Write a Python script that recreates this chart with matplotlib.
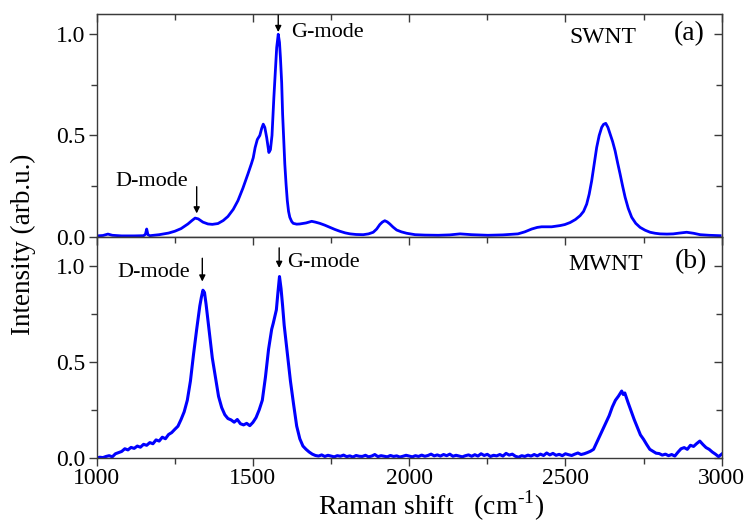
import matplotlib
matplotlib.use('Agg')
import matplotlib.pyplot as plt
from matplotlib.ticker import MultipleLocator

plt.rcParams['font.family'] = ['Liberation Serif', 'DejaVu Serif']
plt.rcParams['mathtext.fontset'] = 'custom'
plt.rcParams['mathtext.rm'] = 'Liberation Serif'

# SWNT spectrum (panel a)
swnt_x = [1000, 1020, 1036, 1050, 1080, 1120, 1150, 1156, 1160, 1164, 1170, 1200, 1230, 1250, 1270,
          1292, 1305, 1315, 1325, 1340, 1356, 1370, 1388, 1405, 1420, 1437, 1452, 1468, 1484, 1495,
          1501, 1507, 1514, 1522, 1528, 1533, 1538, 1544, 1551, 1556, 1561, 1567, 1572, 1576, 1581,
          1585, 1588, 1592, 1595, 1599, 1602, 1606, 1610, 1614, 1618, 1624, 1629, 1640, 1650, 1670,
          1688, 1700, 1714, 1730, 1747, 1762, 1778, 1795, 1811, 1830, 1853, 1870, 1885, 1896, 1906,
          1914, 1922, 1930, 1938, 1948, 1960, 1975, 1992, 2019, 2050, 2093, 2130, 2163, 2200, 2252,
          2300, 2348, 2370, 2392, 2410, 2424, 2440, 2456, 2470, 2483, 2498, 2515, 2532, 2547, 2558,
          2568, 2576, 2584, 2592, 2600, 2608, 2616, 2622, 2629, 2636, 2643, 2651, 2659, 2667, 2675,
          2683, 2691, 2701, 2712, 2725, 2739, 2755, 2771, 2787, 2803, 2825, 2845, 2865, 2888, 2910,
          2931, 2960, 2995]
swnt_y = [0.004, 0.006, 0.013, 0.007, 0.004, 0.004, 0.005, 0.012, 0.038, 0.010, 0.005, 0.010, 0.018, 0.027, 0.040,
          0.063, 0.080, 0.092, 0.088, 0.072, 0.063, 0.061, 0.065, 0.080, 0.100, 0.135, 0.178, 0.240, 0.310, 0.360,
          0.390, 0.440, 0.480, 0.500, 0.535, 0.556, 0.540, 0.490, 0.416, 0.430, 0.500, 0.688, 0.820, 0.934, 1.000,
          0.960, 0.885, 0.760, 0.605, 0.470, 0.359, 0.260, 0.178, 0.125, 0.096, 0.075, 0.066, 0.062, 0.063, 0.068,
          0.076, 0.072, 0.066, 0.057, 0.046, 0.036, 0.027, 0.019, 0.014, 0.011, 0.010, 0.014, 0.022, 0.038, 0.060,
          0.072, 0.079, 0.073, 0.063, 0.048, 0.033, 0.024, 0.017, 0.010, 0.008, 0.007, 0.009, 0.014, 0.010, 0.007,
          0.009, 0.014, 0.024, 0.038, 0.046, 0.049, 0.049, 0.049, 0.052, 0.055, 0.060, 0.070, 0.085, 0.104, 0.125,
          0.161, 0.210, 0.276, 0.360, 0.441, 0.500, 0.540, 0.555, 0.560, 0.540, 0.507, 0.470, 0.424, 0.365, 0.309,
          0.250, 0.195, 0.140, 0.096, 0.066, 0.046, 0.032, 0.022, 0.017, 0.014, 0.013, 0.014, 0.018, 0.022, 0.017,
          0.010, 0.007, 0.005]

# MWNT spectrum (panel b)
mwnt_x = [1000, 1010, 1020, 1030, 1040, 1050, 1060, 1070, 1080, 1090, 1100, 1110, 1120, 1130, 1140, 1150,
          1160, 1170, 1180, 1190, 1200, 1210, 1220, 1230, 1240, 1250, 1260, 1270, 1280, 1290, 1300, 1310,
          1320, 1330, 1335, 1340, 1345, 1350, 1355, 1360, 1370, 1380, 1390, 1400, 1410, 1420, 1430, 1440,
          1450, 1460, 1470, 1480, 1490, 1500, 1510, 1520, 1530, 1540, 1550, 1560, 1565, 1570, 1575, 1580,
          1585, 1590, 1595, 1600, 1605, 1610, 1620, 1630, 1640, 1650, 1660, 1670, 1680, 1690, 1700, 1710,
          1720, 1730, 1740, 1750, 1760, 1770, 1780, 1790, 1800, 1810, 1820, 1830, 1840, 1850, 1860, 1870,
          1880, 1890, 1900, 1910, 1920, 1930, 1940, 1950, 1960, 1970, 1980, 1990, 2000, 2010, 2020, 2030,
          2040, 2050, 2060, 2070, 2080, 2090, 2100, 2110, 2120, 2130, 2140, 2150, 2160, 2170, 2180, 2190,
          2200, 2210, 2220, 2230, 2240, 2250, 2260, 2270, 2280, 2290, 2300, 2310, 2320, 2330, 2340, 2350,
          2360, 2370, 2380, 2390, 2400, 2410, 2420, 2430, 2440, 2450, 2460, 2470, 2480, 2490, 2500, 2510,
          2520, 2530, 2540, 2550, 2560, 2570, 2580, 2590, 2600, 2610, 2620, 2630, 2640, 2650, 2660, 2670,
          2675, 2680, 2685, 2690, 2700, 2710, 2720, 2730, 2740, 2750, 2760, 2770, 2780, 2790, 2800, 2810,
          2820, 2830, 2840, 2850, 2860, 2870, 2880, 2890, 2900, 2910, 2920, 2930, 2940, 2950, 2960, 2970,
          2980, 2990, 3000]
mwnt_y = [0.000, 0.004, 0.002, 0.008, 0.012, 0.006, 0.022, 0.028, 0.034, 0.048, 0.042, 0.055, 0.050, 0.062, 0.056, 0.071,
          0.066, 0.080, 0.074, 0.094, 0.088, 0.108, 0.100, 0.122, 0.132, 0.149, 0.165, 0.200, 0.240, 0.300, 0.400, 0.540,
          0.669, 0.790, 0.835, 0.872, 0.860, 0.800, 0.730, 0.660, 0.520, 0.420, 0.320, 0.262, 0.225, 0.205, 0.198, 0.186,
          0.200, 0.178, 0.172, 0.180, 0.168, 0.185, 0.210, 0.250, 0.300, 0.420, 0.565, 0.669, 0.700, 0.735, 0.770, 0.860,
          0.943, 0.880, 0.790, 0.690, 0.620, 0.545, 0.400, 0.280, 0.166, 0.100, 0.062, 0.045, 0.031, 0.020, 0.013, 0.010,
          0.016, 0.008, 0.014, 0.010, 0.006, 0.012, 0.009, 0.015, 0.007, 0.011, 0.005, 0.013, 0.009, 0.008, 0.014, 0.006,
          0.010, 0.018, 0.007, 0.012, 0.009, 0.006, 0.013, 0.008, 0.011, 0.005, 0.009, 0.014, 0.010, 0.006, 0.012, 0.008,
          0.015, 0.009, 0.013, 0.020, 0.011, 0.016, 0.010, 0.018, 0.012, 0.020, 0.009, 0.014, 0.010, 0.006, 0.012, 0.016,
          0.009, 0.017, 0.010, 0.022, 0.013, 0.019, 0.008, 0.014, 0.011, 0.018, 0.010, 0.024, 0.015, 0.020, 0.009, 0.004,
          0.012, 0.008, 0.015, 0.010, 0.018, 0.011, 0.020, 0.013, 0.026, 0.016, 0.024, 0.014, 0.019, 0.012, 0.022, 0.017,
          0.013, 0.020, 0.026, 0.018, 0.022, 0.028, 0.035, 0.045, 0.080, 0.114, 0.150, 0.184, 0.220, 0.265, 0.300, 0.322,
          0.335, 0.348, 0.330, 0.338, 0.290, 0.245, 0.200, 0.160, 0.120, 0.097, 0.070, 0.045, 0.035, 0.025, 0.023, 0.015,
          0.020, 0.012, 0.018, 0.010, 0.030, 0.048, 0.054, 0.045, 0.066, 0.060, 0.075, 0.088, 0.070, 0.054, 0.045, 0.031,
          0.020, 0.007, 0.020]

line_color = '#0000FF'
spine_color = '#3a3a3a'
fs_tick = 17
fs_note = 16

fig = plt.figure(figsize=(7.46, 5.23), dpi=100)
ax1 = fig.add_axes([0.1296, 0.5474, 0.8378, 0.4258])
ax2 = fig.add_axes([0.1296, 0.1243, 0.8378, 0.4231], sharex=ax1)

ax1.plot(swnt_x, swnt_y, color=line_color, lw=2.0)
ax2.plot(mwnt_x, mwnt_y, color=line_color, lw=2.2)

ax1.set_ylim(0, 1.1)
ax2.set_ylim(0, 1.15)
ax2.set_xlim(1000, 3000)

for ax in (ax1, ax2):
    for sp in ax.spines.values():
        sp.set_color(spine_color)
        sp.set_linewidth(1.0)
    ax.xaxis.set_major_locator(MultipleLocator(500))
    ax.xaxis.set_minor_locator(MultipleLocator(250))
    ax.yaxis.set_major_locator(MultipleLocator(0.5))
    ax.yaxis.set_minor_locator(MultipleLocator(0.25))
    ax.yaxis.set_major_formatter(plt.FormatStrFormatter('%.1f'))
    ax.tick_params(which='both', direction='out', color=spine_color, labelsize=fs_tick, width=1.0, pad=2)
    ax.tick_params(axis='x', pad=1)
    ax.tick_params(which='major', length=6)
    ax.tick_params(which='minor', length=4)
    # mirrored ticks on top and right point inwards
    sx = ax.secondary_xaxis('top')
    sx.xaxis.set_major_locator(MultipleLocator(500))
    sx.xaxis.set_minor_locator(MultipleLocator(250))
    sx.tick_params(which='both', direction='in', color=spine_color, labeltop=False, width=1.0)
    sx.tick_params(which='major', length=6)
    sx.tick_params(which='minor', length=4)
    sx.spines['top'].set_color(spine_color)
    sy = ax.secondary_yaxis('right')
    sy.yaxis.set_major_locator(MultipleLocator(0.5))
    sy.yaxis.set_minor_locator(MultipleLocator(0.25))
    sy.tick_params(which='both', direction='in', color=spine_color, labelright=False, width=1.0)
    sy.tick_params(which='major', length=6)
    sy.tick_params(which='minor', length=4)
    sy.spines['right'].set_color(spine_color)

ax1.tick_params(labelbottom=False)

arrow = dict(arrowstyle='-|>', color='black', lw=1.0, mutation_scale=9, shrinkA=0, shrinkB=0)

# panel (a)
ax1.annotate('', xy=(1320, 0.115), xytext=(1320, 0.247), arrowprops=arrow)
ax1.text(1177, 0.271, 'D-mode', ha='center', va='center', fontsize=fs_note)
ax1.annotate('', xy=(1581, 1.011), xytext=(1581, 1.094), arrowprops=arrow)
ax1.text(1622, 1.011, 'G-mode', ha='left', va='center', fontsize=fs_note)
ax1.text(2514, 0.982, 'SWNT', ha='left', va='center', fontsize=17)
ax1.text(2847, 1.003, '(a)', ha='left', va='center', fontsize=20)

# panel (b)
ax2.annotate('', xy=(1338, 0.917), xytext=(1338, 1.038), arrowprops=arrow)
ax2.text(1184, 0.966, 'D-mode', ha='center', va='center', fontsize=fs_note)
ax2.annotate('', xy=(1584, 0.988), xytext=(1584, 1.092), arrowprops=arrow)
ax2.text(1608, 1.016, 'G-mode', ha='left', va='center', fontsize=fs_note)
ax2.text(2508, 1.007, 'MWNT', ha='left', va='center', fontsize=17)
ax2.text(2851, 1.021, '(b)', ha='left', va='center', fontsize=20)

fig.text(0.031, 0.532, 'Intensity (arb.u.)', rotation=90, ha='center', va='center', fontsize=19.5)
fig.text(0.578, 0.0, r'Raman shift   (cm$^{\text{-}1}$)', ha='center', va='bottom', fontsize=20)

plt.savefig('out.png', dpi=100)
